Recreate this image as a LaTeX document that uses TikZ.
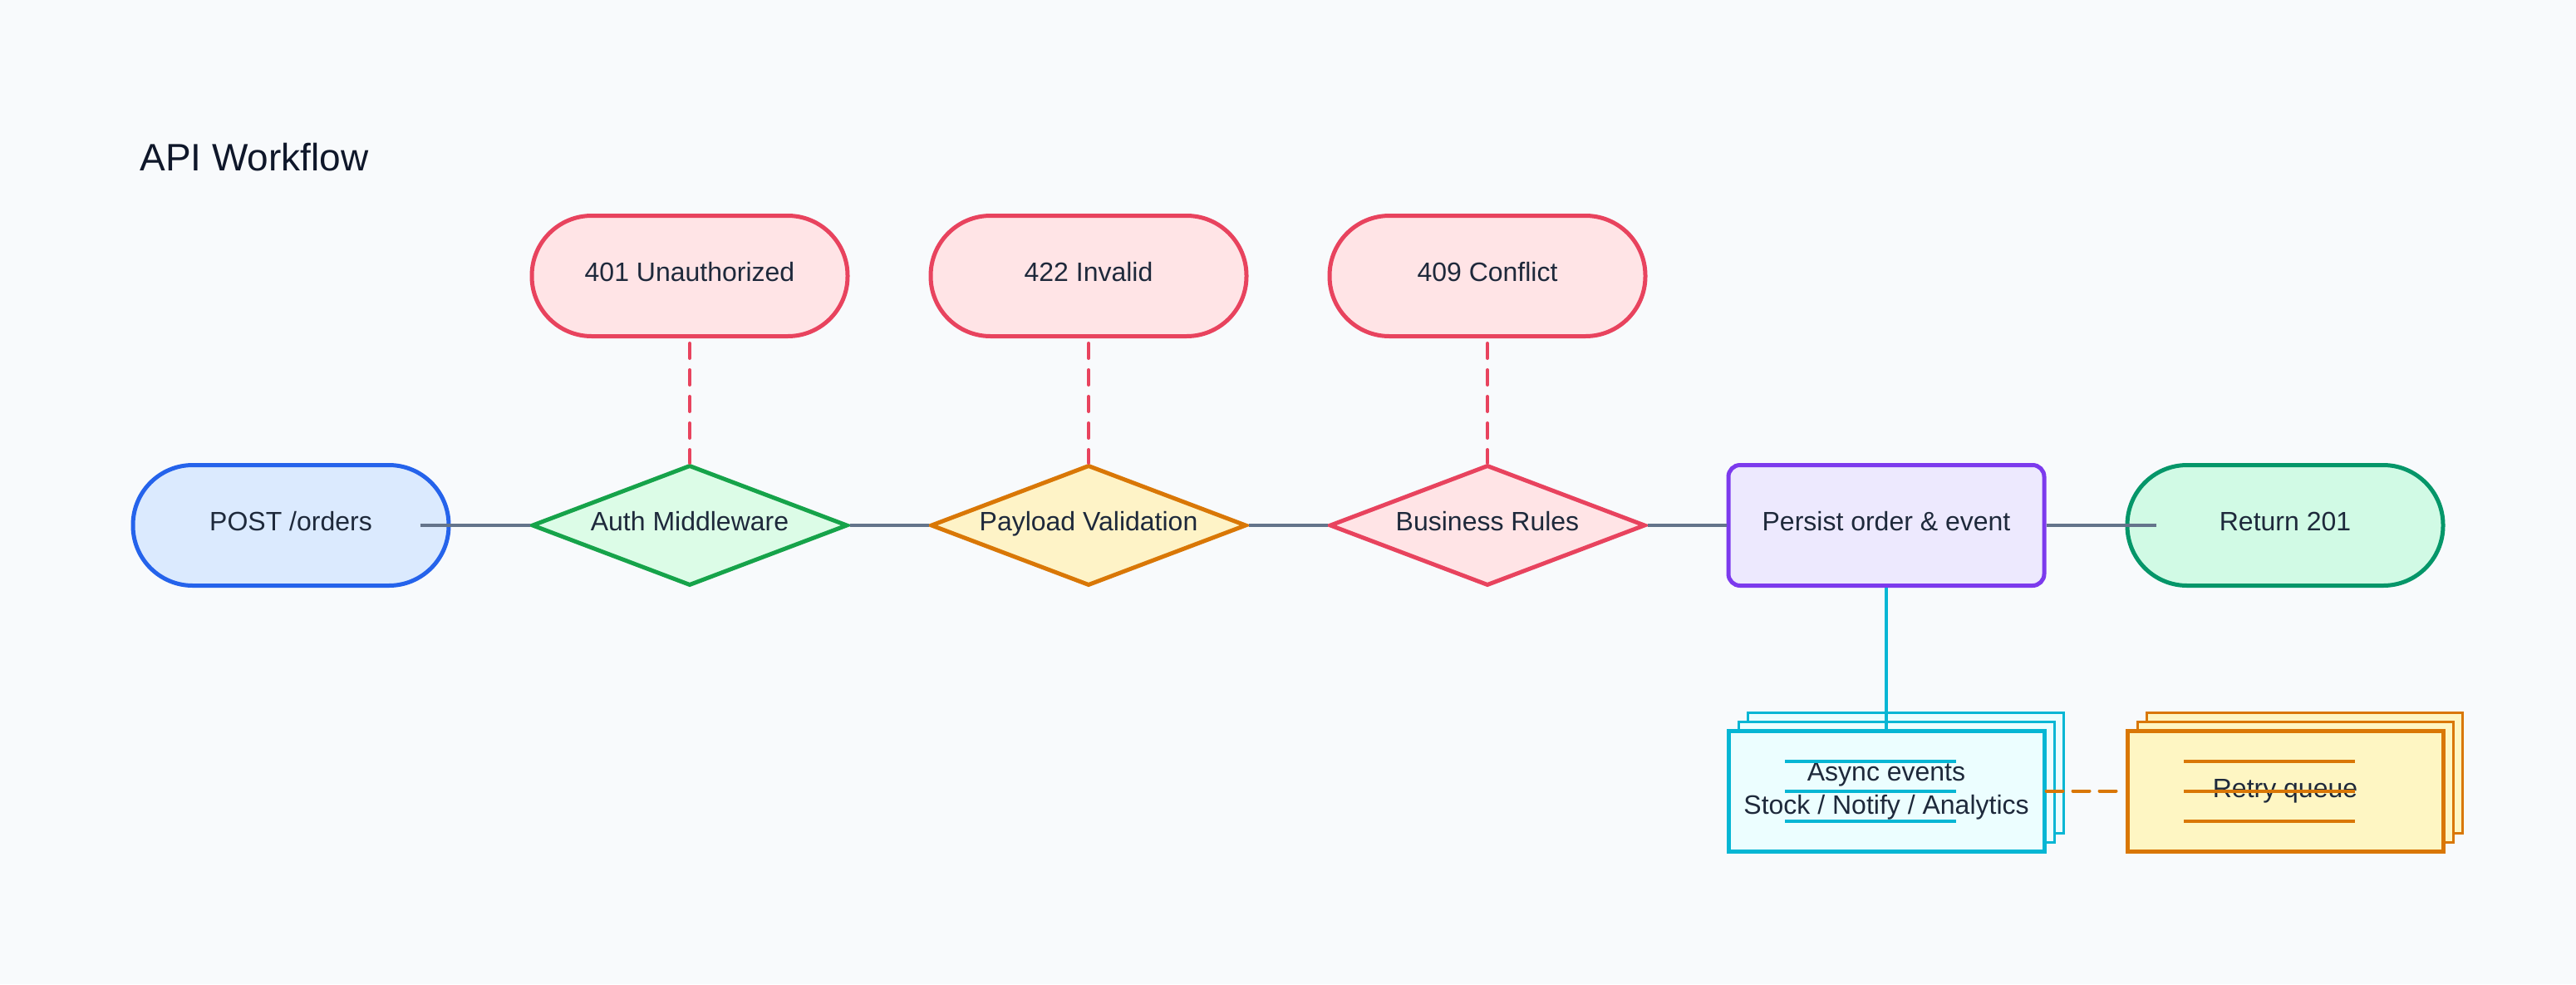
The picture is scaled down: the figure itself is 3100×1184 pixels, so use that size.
\documentclass[tikz,border=0pt]{standalone}
\usepackage{fontspec}
\setmainfont{Liberation Sans}
\usetikzlibrary{shapes.geometric}
\definecolor{bg}{HTML}{F8FAFC}
\definecolor{txt}{HTML}{1E293B}
\definecolor{ttl}{HTML}{0F172A}
\definecolor{edge}{HTML}{64748B}
\definecolor{blueF}{HTML}{DBEAFE}\definecolor{blueD}{HTML}{2563EB}
\definecolor{greenF}{HTML}{DCFCE7}\definecolor{greenD}{HTML}{16A34A}
\definecolor{amberF}{HTML}{FEF3C7}\definecolor{amberD}{HTML}{D97706}
\definecolor{roseF}{HTML}{FFE4E6}\definecolor{roseD}{HTML}{E8435E}
\definecolor{violetF}{HTML}{EDE9FE}\definecolor{violetD}{HTML}{7C3AED}
\definecolor{emerF}{HTML}{D1FAE5}\definecolor{emerD}{HTML}{059669}
\definecolor{cyanF}{HTML}{ECFEFF}\definecolor{cyanD}{HTML}{06B6D4}
\definecolor{yelF}{HTML}{FEF6C3}
\tikzset{
  lbl/.style={font=\fontsize{16}{20}\selectfont, text=txt, align=center},
  base/.style={lbl, minimum width=190pt, minimum height=72.5pt, inner sep=0pt, line width=2.5pt},
  oneline/.style={text height=0.82em, text depth=0.2em},
  stadium/.style={base, oneline, rectangle, rounded corners=36pt},
  decision/.style={base, oneline, diamond, aspect=2.64},
  procbox/.style={base, oneline, rectangle, rounded corners=7pt},
  stackbox/.style={base, rectangle},
  backlayer/.style={line width=1.5pt},
  conn/.style={draw=edge, line width=2pt},
  errline/.style={draw=roseD, line width=2pt, line cap=round, dash pattern=on 9pt off 7pt},
  hint/.style={line width=2pt},
}
\begin{document}
\begin{tikzpicture}[x=0.5pt,y=-0.5pt]
\fill[bg] (0,0) rectangle (3100,1184);
\useasboundingbox (0,0) rectangle (3100,1184);

\node[anchor=west, font=\fontsize{23}{28}\selectfont, text=ttl, inner sep=0pt] (title) at (168,189) {API Workflow};

% main row
\node[stadium, draw=blueD, fill=blueF] (post) at (350,632) {POST /orders};
\node[decision, draw=greenD, fill=greenF] (auth) at (830,632) {Auth Middleware};
\node[decision, draw=amberD, fill=amberF] (payload) at (1310,632) {Payload Validation};
\node[decision, draw=roseD, fill=roseF] (rules) at (1790,632) {Business Rules};
\node[procbox, draw=violetD, fill=violetF] (persist) at (2270,632) {Persist order \& event};
\node[stadium, draw=emerD, fill=emerF] (ret) at (2750,632) {Return 201};

% error nodes
\node[stadium, draw=roseD, fill=roseF] (e401) at (830,332) {401 Unauthorized};
\node[stadium, draw=roseD, fill=roseF] (e422) at (1310,332) {422 Invalid};
\node[stadium, draw=roseD, fill=roseF] (e409) at (1790,332) {409 Conflict};

% stacks (back layers)
\draw[backlayer, draw=cyanD, fill=cyanF] (2103,857) rectangle (2483,1002);
\draw[backlayer, draw=cyanD, fill=cyanF] (2092,868) rectangle (2472,1013);
\draw[backlayer, draw=amberD, fill=yelF] (2583,857) rectangle (2963,1002);
\draw[backlayer, draw=amberD, fill=yelF] (2572,868) rectangle (2952,1013);

\node[stackbox, draw=cyanD, fill=cyanF] (async) at (2270,951.5) {Async events\\Stock / Notify / Analytics};
\node[stackbox, draw=amberD, fill=yelF] (retry) at (2750,951.5) {Retry queue};

\foreach \yy in {916,952,988} {
  \draw[hint, cyanD] (2148,\yy) -- (2354,\yy);
  \draw[hint, amberD] (2628,\yy) -- (2834,\yy);
}

% connectors
\draw[conn, shorten <=-18.5pt] (post.east) -- (auth.west);
\draw[conn] (auth.east) -- (payload.west);
\draw[conn] (payload.east) -- (rules.west);
\draw[conn] (rules.east) -- (persist.west);
\draw[conn, shorten >=-18.5pt] (persist.east) -- (ret.west);

\draw[errline, shorten <=3pt] (e401.south) -- (auth.north);
\draw[errline, shorten <=3pt] (e422.south) -- (payload.north);
\draw[errline, shorten <=3pt] (e409.south) -- (rules.north);

\draw[draw=cyanD, line width=2pt] (persist.south) -- (async.north);
\draw[draw=amberD, line width=2pt, line cap=round, dash pattern=on 10pt off 6pt] (async.east) -- (retry.west);
\end{tikzpicture}
\end{document}
